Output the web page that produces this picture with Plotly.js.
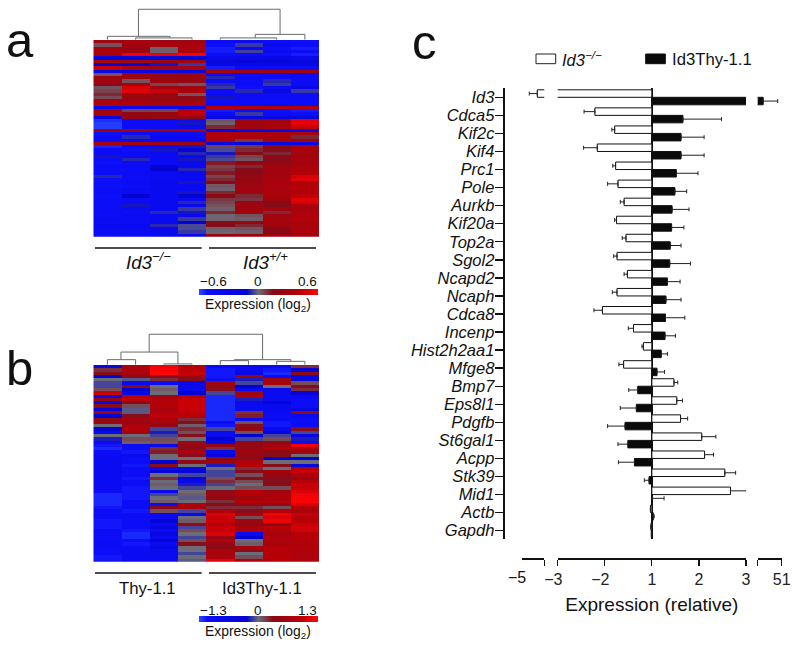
<!DOCTYPE html>
<html><head><meta charset="utf-8">
<script src="https://cdn.plot.ly/plotly-3.0.1.min.js"></script>
<style>html,body{margin:0;padding:0;background:#fff}</style></head>
<body><div id="chart" style="width:800px;height:646px"></div>
<script>
const genes=['Id3','Cdca5','Kif2c','Kif4','Prc1','Pole','Aurkb','Kif20a','Top2a','Sgol2','Ncapd2','Ncaph','Cdca8','Incenp','Hist2h2aa1','Mfge8','Bmp7','Eps8l1','Pdgfb','St6gal1','Acpp','Stk39','Mid1','Actb','Gapdh'];
const koValues=[-3.62,-2.21,-1.79,-2.16,-1.77,-1.72,-1.59,-1.75,-1.55,-1.74,-1.52,-1.74,-2.05,-1.39,-1.18,-1.60,1.47,1.53,1.61,2.06,2.12,2.55,2.67,-1.03,-1.02];
const koErrors=[0.71,0.23,0.06,0.29,0.06,0.22,0.08,0.04,0.08,0.07,0.07,0.10,0.18,0.11,0.03,0.10,0.08,0.12,0.15,0.30,0.19,0.23,0.34,0,0];
const thyValues=[14,1.66,1.62,1.62,1.52,1.49,1.43,1.42,1.39,1.38,1.33,1.30,1.29,1.28,1.20,1.11,-1.30,-1.33,-1.57,-1.51,-1.37,-1.06,1.01,1.03,-1.01];
const thyErrors=[29,0.82,0.49,0.49,0.46,0.25,0.36,0.26,0.23,0.44,0.27,0.32,0.41,0.22,0.13,0.16,0.19,0.34,0.37,0.21,0.34,0.10,0.25,0.02,0];

const zA=[
[.28,.34,.30,.30,-.50,-.46,-.50,-.52],[.04,.30,.32,.34,-.52,-.06,-.44,-.50],[.30,.22,.02,.34,-.54,-.46,-.52,-.54],
[.36,.30,.02,.36,-.54,-.05,-.46,-.50],[.34,.56,.54,.58,-.52,-.50,-.52,-.54],[-.24,-.22,-.20,-.18,-.40,-.36,-.34,-.38],
[.34,.28,.26,.28,-.26,-.24,-.20,-.26],[-.16,-.12,-.10,-.06,-.36,-.36,-.32,-.34],[.46,.36,.30,.34,-.54,-.50,-.52,-.52],
[-.30,-.34,-.30,-.28,.32,.30,.28,.30],[.04,.30,.26,.26,-.48,-.50,-.50,-.46],[.26,.28,.24,.26,-.08,-.48,-.50,-.48],
[.30,.04,.28,.24,-.50,-.50,-.08,-.50],[.16,.30,.06,.04,-.08,-.50,-.06,-.48],[.04,.50,.30,.28,-.06,-.52,-.48,-.34],
[.06,.52,.46,.40,-.50,-.08,-.30,-.06],[.10,.28,.26,.04,-.50,-.50,-.50,-.50],[.05,.26,.24,.20,-.10,-.50,-.48,-.50],
[.34,.30,.26,.24,-.52,-.50,-.50,-.50],[.38,.36,.34,.34,-.50,-.50,-.48,-.50],[-.42,-.40,-.38,-.36,.42,.40,.38,.40],
[.30,.06,.06,.42,-.54,-.50,-.52,-.54],[.32,.22,.26,.44,-.50,-.06,-.50,-.52],[-.26,.20,.20,.22,-.26,-.28,-.26,-.30],
[-.56,-.50,-.48,-.50,.04,.26,.30,.52],[-.58,-.50,-.50,-.10,.02,.30,.32,.54],[-.58,-.50,-.50,-.46,.10,.30,.34,.46],
[.30,.28,.24,.30,-.34,-.30,-.30,-.34],[-.52,-.50,-.48,-.50,.38,.36,.34,.34],[-.50,-.08,-.48,-.48,.36,.34,.34,.10],
[-.48,-.46,-.44,-.44,.34,.08,.32,.30],[.34,.32,.30,.28,-.30,-.28,-.26,-.30],[-.55,-.48,-.46,-.10,.06,.08,.16,.30],
[-.50,-.52,-.10,-.16,-.04,.10,.14,.34],[-.48,-.50,-.46,-.08,-.10,.14,.10,.32],[-.10,-.48,-.46,-.42,-.06,.06,.20,.30],
[-.50,-.08,-.48,-.10,-.04,.04,.14,.34],[-.52,-.50,-.48,-.44,.12,.20,.24,.30],[-.50,-.48,-.16,-.42,.06,.10,.30,.38],
[-.52,-.50,-.12,-.08,.08,.14,.30,.36],[-.50,-.48,-.46,-.44,.12,.18,.30,.40],[-.08,-.50,-.46,-.46,.06,.24,.32,.50],
[-.52,-.50,-.46,-.44,.10,.20,.34,.52],[-.50,-.48,-.40,-.10,.16,.26,.34,.36],[-.52,-.50,-.42,-.44,.03,.28,.36,.40],
[-.50,-.46,-.46,-.42,.02,.30,.34,.42],[-.50,-.50,-.44,-.10,.10,.28,.36,.38],[-.52,-.14,-.44,-.14,.16,.10,.34,.44],
[-.52,-.48,-.46,-.42,.08,.08,.30,.52],[-.50,-.46,-.44,-.08,.06,.24,.16,.50],[-.50,-.10,-.44,-.42,.04,.28,.14,.34],
[-.50,-.46,-.44,-.06,.02,.28,.30,.34],[-.48,-.50,-.08,-.10,.10,.30,.10,.36],[-.50,-.46,-.44,-.42,.01,.04,.30,.36],
[-.46,-.48,-.44,-.06,.01,.02,.32,.40],[-.48,-.46,-.44,-.12,.16,.24,.30,.34],[-.44,-.44,-.08,-.04,.14,.10,.28,.36],
[-.46,-.46,-.42,-.04,.02,.04,.18,.36],[-.46,-.46,-.42,-.06,.01,.02,.16,.34],[-.50,-.48,-.44,-.42,.22,.26,.30,.34]];

const zB=[
[-.7,.75,1.2,.9,-1.0,-.9,-1.0,.2],[.2,.8,1.25,.95,-1.15,-.9,-1.15,-.4],[.3,.75,1.3,1.0,-1.15,-.7,-1.2,.4],
[-.3,.3,.3,.6,-1.15,.4,-1.1,-.7],[.0,-.05,.2,.3,-1.1,-.2,.6,-.6],[-.1,-1.0,-1.1,-.7,.6,-.1,.7,.1],
[-.1,.3,.0,-.9,.5,-.3,.0,.3],[.1,-.3,.05,-.9,.3,-.9,-.9,.2],[1.0,-.7,.0,-.3,-.1,.6,-1.0,-.4],
[-.8,.9,.6,.9,-1.2,.7,-1.0,-1.0],[.5,.95,.8,1.0,-1.2,-.2,-1.0,-1.1],[-.6,.3,.9,1.0,-1.2,-.9,-.4,-1.1],
[.4,.1,.9,1.0,-1.2,-1.0,-.9,-1.1],[-.4,-.05,.7,1.0,-1.2,-1.0,-.9,-.6],[.5,-.05,.85,.95,-1.2,.2,-1.0,.3],
[-.3,.3,.95,.9,-1.2,.25,-1.1,-.9],[.4,.7,.8,.2,-1.2,-.9,-1.0,-1.1],[.6,.5,.7,.3,-1.1,.1,-1.15,-1.1],
[.0,.8,.5,.05,-1.15,.3,-1.15,-1.1],[-.3,.85,-.1,.2,-.1,.4,-.9,.3],[-.9,.7,-.2,.1,-1.0,.1,-.5,-.1],
[.0,.0,-.1,.3,-1.0,-.3,-.1,-.7],[-.2,.1,.1,.0,-.3,-.1,.1,-.2],[-1.0,.05,.1,.6,-.7,.4,.3,-1.1],
[-1.15,-1.0,-.9,.5,.5,.5,.7,1.2],[-1.2,-1.1,.2,.3,.2,.5,.9,.8],[-1.1,-1.15,.25,.8,-.9,.6,.4,.7],
[-1.05,-.9,.0,.3,-.5,.5,.3,.0],[-1.0,-1.1,.0,.0,.4,.3,-.3,-.3],[-1.0,-1.1,-.3,.5,.6,.8,.0,.0],
[-1.0,-1.15,.3,.0,-.2,.9,.3,-.6],[-1.0,-1.1,-.9,-.7,.0,.2,.0,.9],[-1.0,-1.1,-.3,-.5,-.1,.3,.7,1.0],
[-1.0,-1.1,.0,-.1,-.1,.1,.5,.8],[-1.0,-1.15,.2,-.6,.1,.3,.3,.6],[-1.0,-1.1,.0,-.8,.2,.1,.3,.9],
[-1.0,-1.1,.05,-.2,-.1,.0,.4,1.0],[-1.0,-1.15,.0,-.1,.0,.1,.1,1.0],[-1.05,-1.15,-.9,.0,.3,.9,.6,1.1],
[-1.2,-1.15,-.1,.05,.7,.9,.8,1.2],[-1.2,-1.15,.0,-.05,.5,.6,.8,1.25],[-1.2,-1.1,.05,.0,.2,.9,.85,1.25],
[-1.2,-1.1,-1.0,.9,.3,.5,.5,1.1],[-1.15,-1.1,.3,.7,.2,.2,.1,.9],[-1.1,-1.15,.1,-.1,.8,.3,.9,.7],
[-1.05,-1.1,-.9,-.9,1.1,.9,1.2,1.0],[-1.1,-1.05,-1.0,.0,1.0,.1,1.1,.9],[-1.15,-1.1,-.3,.05,1.0,.6,1.2,.9],
[-1.15,-1.1,-1.0,.6,.9,.5,.4,1.0],[-1.15,-1.1,-.6,-.1,1.0,.7,.9,1.05],[-1.1,-1.15,-1.0,.1,1.0,.8,.9,1.05],
[-1.1,-1.2,-.7,.0,1.1,-.9,.7,.9],[-1.1,-1.2,-1.0,-.1,.5,-.3,.8,.9],[-1.05,-1.1,-.4,.1,.9,.0,.9,.85],
[-1.05,-1.15,-1.0,.3,.5,.05,.7,.8],[-1.05,-1.1,-.7,.0,.4,.7,.9,.9],[-1.1,-1.05,-1.0,.0,.8,.3,.9,.8],
[-1.1,-1.0,-1.0,-.1,.7,.0,.9,.8],[-1.15,-1.0,-1.0,.0,.8,.1,.9,.8],[-1.15,-1.0,-1.05,-.05,1.15,.8,.9,.85]];

// dendrograms: column position and branch height
const treeAX=[1.1,1.1,6.12,6.12,null,0,0,2.22,2.22,null,1,1,3,3,null,7,7,5.24,5.24,null,4,4,6,6];
const treeAY=[3.3,30.7,30.7,5.3,null,0,3.3,3.3,1.7,null,0,1.7,1.7,0,null,0,5.3,5.3,1.7,null,0,1.7,1.7,0];
const treeBX=[1.48,1.48,5.5,5.5,null,.48,.48,2.5,2.5,null,0,0,1,1,null,2,2,3,3,null,4.5,4.5,6.5,6.5,null,4,4,5,5,null,6,6,7,7];
const treeBY=[12.7,30.7,30.7,5,null,5,12.7,12.7,.7,null,0,5,5,0,null,0,.7,.7,0,null,4,5,5,3.3,null,0,4,4,0,null,0,3.3,3.3,0];

const scaleColors=[[0,'#2a4cff'],[.07,'#0c0cf8'],[.4,'#0404d0'],[.5,'#6c6c78'],[.62,'#860a16'],[.85,'#b60008'],[1,'#ff0505']];

const W=800,H=646;
const xd=(a,b)=>[a/W,b/W], yd=(t,b)=>[1-b/H,1-t/H], px=a=>a/W, py=a=>1-a/H;
const folded=v=>v>0?v-1:v+1;
const ink='#111';

const rows=genes.map((_,i)=>i);
function heat(z,lim,xa,ya,cbTop){
  return {type:'heatmap',z:z,x:[0,1,2,3,4,5,6,7],xaxis:xa,yaxis:ya,zmin:-lim,zmax:lim,colorscale:scaleColors,hoverinfo:'skip',
    colorbar:{orientation:'h',x:px(198.5),xanchor:'left',y:py(cbTop),yanchor:'top',len:118.5,lenmode:'pixels',thickness:6,thicknessmode:'pixels',
      xpad:0,ypad:0,outlinewidth:0,borderwidth:0,ticks:'',tickmode:'array',tickvals:[],ticktext:[]}};
}
function tree(x,y,xa,ya){return {type:'scatter',mode:'lines',x:x,y:y,xaxis:xa,yaxis:ya,line:{color:'#666b6e',width:1},hoverinfo:'skip',showlegend:false};}
function bars(name,y,x,err,color,offset,xa){
  return {type:'bar',orientation:'h',name:name,y:y,x:x,xaxis:xa,yaxis:'y5',width:.415,offset:offset,
    marker:{color:color,line:{color:ink,width:1}},hoverinfo:'skip',showlegend:false,cliponaxis:true,
    error_x:{type:'data',symmetric:false,visible:true,
      array:x.map((v,i)=>v>0?err[i]:0),arrayminus:x.map((v,i)=>v<0?err[i]:0),color:'#222',thickness:1,width:2}};
}
const data=[
  heat(zA,.6,'x','y',289),
  tree(treeAX,treeAY,'x','y2'),
  heat(zB,1.3,'x2','y3',616),
  tree(treeBX,treeBY,'x2','y4'),
  bars('Id3-/-',rows,koValues.map(folded),koErrors,'#fff',-.415,'x3'),
  bars('Id3Thy-1.1',rows,thyValues.map(folded),thyErrors,'#0a0a0a',0,'x3'),
  bars('Id3-/- (break)',[rows[0]],[koValues[0]],[koErrors[0]],'#fff',-.415,'x4'),
  bars('Id3Thy-1.1 (break)',[rows[0]],[thyValues[0]],[thyErrors[0]],'#0a0a0a',0,'x5')
];

const hidden={showline:false,showgrid:false,zeroline:false,ticks:'',showticklabels:false,fixedrange:true};
const axisLine={showline:true,linecolor:ink,linewidth:1.6,ticks:'outside',ticklen:6,tickwidth:1.3,tickcolor:ink,showgrid:false,zeroline:false,
  tickfont:{size:16,color:'#222'},anchor:'free',position:py(558),tickmode:'array',tickangle:0};
const labelNudge='\u00a0\u00a0';
const layout={
  width:W,height:H,margin:{l:0,r:0,t:0,b:0},paper_bgcolor:'#fff',plot_bgcolor:'rgba(0,0,0,0)',showlegend:false,barmode:'overlay',
  font:{family:'"Liberation Sans",Arial,sans-serif',color:ink},
  xaxis:{...hidden,domain:xd(93.3,319),range:[-.5,7.5]},
  yaxis:{...hidden,domain:yd(40,236.7),range:[59.5,-.5]},
  yaxis2:{...hidden,domain:yd(5,40),range:[-.4,35],anchor:'x'},
  xaxis2:{...hidden,domain:xd(93.3,319),range:[-.5,7.5],anchor:'y3'},
  yaxis3:{...hidden,domain:yd(365,561.7),range:[59.5,-.5],anchor:'x2'},
  yaxis4:{...hidden,domain:yd(330,365),range:[-.4,35],anchor:'x2'},
  xaxis3:{...axisLine,domain:xd(557.7,746),range:[-2,2],tickvals:[-2,-1,0,1,2],
    ticktext:['\u22123'+labelNudge,'\u22122'+labelNudge,'1','2','3'],
    zeroline:true,zerolinecolor:ink,zerolinewidth:2,
    title:{text:'Expression (relative)',font:{size:19,color:ink},standoff:11}},
  xaxis4:{...axisLine,domain:xd(521.7,544.3),range:[-5,-3],tickvals:[-3],showticklabels:false},
  xaxis5:{...axisLine,domain:xd(757.7,781.7),range:[3,51],tickvals:[3,51],ticktext:['','51']},
  yaxis5:{domain:yd(88,539),range:[24.46,-.515],anchor:'free',position:px(503.7),side:'left',showline:true,linecolor:ink,linewidth:2,
    ticks:'outside',ticklen:8,tickwidth:1.4,tickcolor:ink,showgrid:false,zeroline:false,tickmode:'array',tickvals:rows,
    ticklabelstandoff:-3,ticktext:genes.map(g=>'<i>'+g+'</i>'),tickfont:{size:16.5,color:ink}},
  shapes:[
    [95,201.7,248],[209,316,248],[95,201.7,573],[209,316,573]
  ].map(l=>({type:'line',xref:'paper',yref:'paper',x0:px(l[0]),x1:px(l[1]),y0:py(l[2]),y1:py(l[2]),line:{color:ink,width:1.3}})).concat([
    {type:'rect',xref:'paper',yref:'paper',x0:px(536),x1:px(555.7),y0:py(54),y1:py(63.7),fillcolor:'#fff',line:{color:'#222',width:1}},
    {type:'rect',xref:'paper',yref:'paper',x0:px(645.7),x1:px(665.3),y0:py(54),y1:py(63.7),fillcolor:'#0a0a0a',line:{color:'#0a0a0a',width:1}}
  ]),
  annotations:[
    ['a',6,39.5,49,'left'],['b',6,368,49,'left'],['c',412,42,49,'left'],
    ['<i>Id3<sup>\u2212/\u2212</sup></i>',148.5,260.5,18.7,'center'],['<i>Id3<sup>+/+</sup></i>',265.5,260.5,18.7,'center'],
    ['Thy-1.1',147,588,16.7,'center'],['Id3Thy-1.1',261.5,588,16.7,'center'],
    ['\u22120.6',213,282,13.5,'center'],['0',258,282,13.5,'center'],['0.6',307,282,13.5,'center'],
    ['\u22121.3',213,610,13.5,'center'],['0',258,610,13.5,'center'],['1.3',307,610,13.5,'center'],
    ['Expression (log<sub>2</sub>)',258,304.5,13.9,'center'],['Expression (log<sub>2</sub>)',258,631.5,13.9,'center'],
    ['<i>Id3<sup>\u2212/\u2212</sup></i>',562,59.5,16.5,'left'],['Id3Thy-1.1',672,59.5,16.7,'left'],
    ['\u22125',516.5,577,16,'center']
  ].map(a=>({text:a[0],xref:'paper',yref:'paper',x:px(a[1]),y:py(a[2]),xanchor:a[4],yanchor:'middle',showarrow:false,
    font:{size:a[3],color:ink},borderpad:0,borderwidth:0}))
};
Plotly.newPlot('chart',data,layout,{staticPlot:true,displayModeBar:false});
</script></body></html>
